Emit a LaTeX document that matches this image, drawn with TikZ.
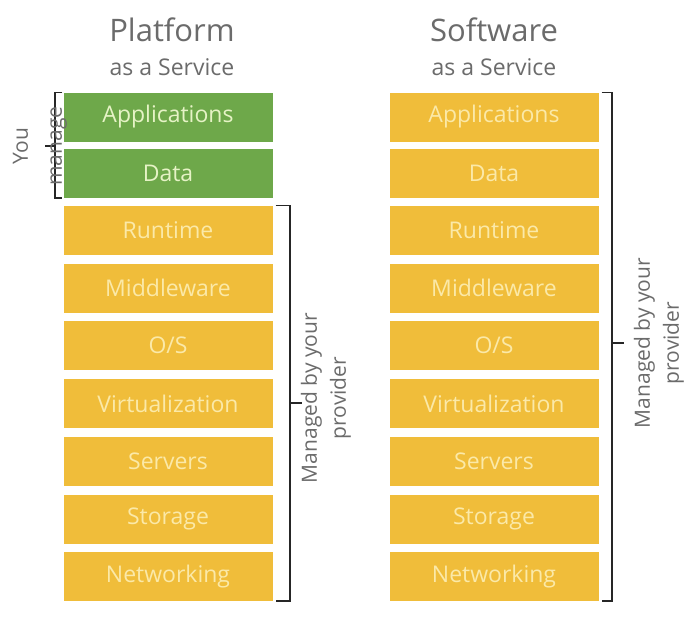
\documentclass[tikz,border=0pt]{standalone}
\usepackage{fontspec}
\setmainfont{Open Sans}
\definecolor{ybox}{HTML}{F0BD3A}
\definecolor{gbox}{HTML}{6EA84A}
\definecolor{gtext}{HTML}{6B6B6B}
\definecolor{ytext}{HTML}{FBE9A8}
\definecolor{gtextl}{HTML}{E6F3C6}
\begin{document}
\begin{tikzpicture}[x=1pt,y=-1pt,
  layer/.style={minimum width=209pt,minimum height=49pt,inner sep=0pt,font=\fontsize{23}{26}\selectfont},
  ylayer/.style={layer,fill=ybox,text=ytext},
  glayer/.style={layer,fill=gbox,text=gtextl},
  brk/.style={draw=black!85,line width=1.6pt},
  title/.style={text=gtext,font=\fontsize{31}{34}\selectfont},
  sub/.style={text=gtext,font=\fontsize{23}{26}\selectfont},
  side/.style={text=gtext,font=\fontsize{21}{29}\selectfont,align=center,rotate=90}]
\useasboundingbox (0,0) rectangle (698,634);
% titles
\node[title] (pt) at (172,30) {Platform};
\node[sub] (ps) at (172,67) {as a Service};
\node[title] (st) at (494,30) {Software};
\node[sub] (ss) at (494,67) {as a Service};
% left column
\node[glayer] (la) at (168,117) {Applications};
\node[glayer] (ld) at (168,173) {Data};
\node[ylayer] (l1) at (168,230) {Runtime};
\node[ylayer] (l2) at (168,288) {Middleware};
\node[ylayer] (l3) at (168,345.5) {O/S};
\node[ylayer] (l4) at (168,403.5) {Virtualization};
\node[ylayer] (l5) at (168,461.5) {Servers};
\node[ylayer] (l6) at (168,519) {Storage};
\node[ylayer] (l7) at (168,576.5) {Networking};
% right column
\node[ylayer] (ra) at (494,117) {Applications};
\node[ylayer] (rd) at (494,173) {Data};
\node[ylayer] (r1) at (494,230) {Runtime};
\node[ylayer] (r2) at (494,288) {Middleware};
\node[ylayer] (r3) at (494,345.5) {O/S};
\node[ylayer] (r4) at (494,403.5) {Virtualization};
\node[ylayer] (r5) at (494,461.5) {Servers};
\node[ylayer] (r6) at (494,519) {Storage};
\node[ylayer] (r7) at (494,576.5) {Networking};
% you manage bracket
\coordinate (ym) at (55,146);
\draw[brk] ([xshift=-1pt]la.north west) -| (ym) |- ([xshift=-1pt]ld.south west);
\draw[brk] (ym) -- ++(-10,0);
\node[side,font=\fontsize{21}{34}\selectfont] (yt) at (40,146) {You\\manage};
% paas provider bracket
\coordinate (pm) at (290,403);
\draw[brk] ([xshift=3pt]l1.north east) -| (pm) |- ([xshift=3pt]l7.south east);
\draw[brk] (pm) -- ++(12,0);
\node[side] (pt2) at (326,398) {Managed by your\\provider};
% saas provider bracket
\coordinate (sm) at (612,343);
\draw[brk] ([xshift=3pt]ra.north east) -| (sm) |- ([xshift=3pt]r7.south east);
\draw[brk] (sm) -- ++(12,0);
\node[side] (st2) at (659,343) {Managed by your\\provider};
\end{tikzpicture}
\end{document}
